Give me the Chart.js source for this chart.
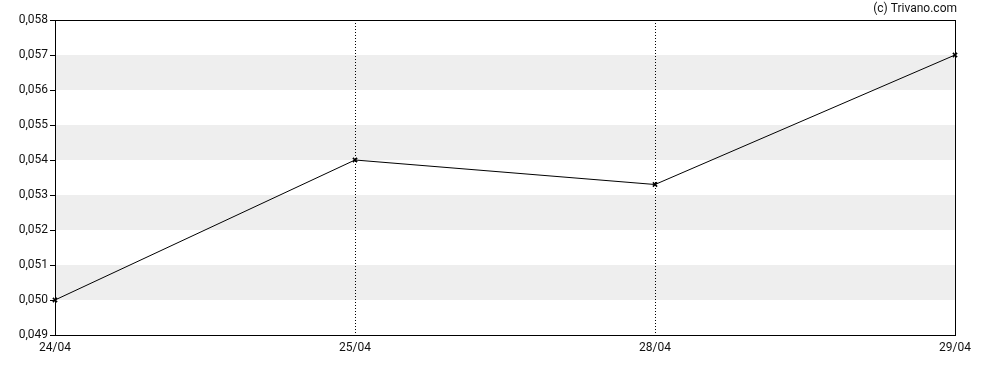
<!DOCTYPE html>
<html>
<head>
<meta charset="utf-8">
<script src="https://cdn.jsdelivr.net/npm/chart.js@4/dist/chart.umd.min.js"></script>
<style>
    html, body { margin: 0; padding: 0; background: #ffffff; }
    #wrap { width: 988px; height: 370px; }
</style>
</head>
<body>
<div id="wrap"><canvas id="priceChart"></canvas></div>
<script>
// Chart data
const dates = ['24/04', '25/04', '28/04', '29/04'];
const prices = [0.050, 0.054, 0.0533, 0.057];
const yMin = 0.049;
const yMax = 0.058;
const yStep = 0.001;
// shaded horizontal bands [from, to]
const bandFrom = [0.050, 0.052, 0.054, 0.056];
const bandTo = [0.051, 0.053, 0.055, 0.057];

const textColor = '#111111';
const fontSpec = { family: 'Roboto', size: 12 };

// Gray bands drawn before grid and line
const bandsPlugin = {
    id: 'bands',
    beforeDraw(chart) {
        const { ctx, chartArea, scales } = chart;
        ctx.save();
        ctx.fillStyle = '#eeeeee';
        bandFrom.forEach((from, i) => {
            const yTop = scales.y.getPixelForValue(bandTo[i]);
            const yBot = scales.y.getPixelForValue(from);
            ctx.fillRect(chartArea.left, yTop, chartArea.right - chartArea.left, yBot - yTop);
        });
        ctx.restore();
    }
};

// Frame around the plot + copyright text
const framePlugin = {
    id: 'frame',
    afterDraw(chart) {
        const { ctx, chartArea } = chart;
        ctx.save();
        ctx.strokeStyle = '#000000';
        ctx.lineWidth = 1;
        ctx.strokeRect(chartArea.left + 0.5, chartArea.top + 0.5,
            chartArea.right - chartArea.left, chartArea.bottom - chartArea.top);
        ctx.fillStyle = textColor;
        ctx.font = '12px Roboto';
        ctx.textAlign = 'right';
        ctx.textBaseline = 'middle';
        ctx.fillText('(c) Trivano.com', chartArea.right + 2, 9);
        ctx.restore();
    }
};

new Chart(document.getElementById('priceChart'), {
    type: 'line',
    data: {
        labels: dates,
        datasets: [{
            data: prices,
            borderColor: '#000000',
            borderWidth: 1,
            tension: 0,
            fill: false,
            pointStyle: 'crossRot',
            pointRadius: 3,
            pointBorderColor: '#000000',
            pointBorderWidth: 1.5
        }]
    },
    options: {
        responsive: true,
        maintainAspectRatio: false,
        animation: false,
        layout: {
            padding: { left: 0, right: 33, top: 20, bottom: 0 }
        },
        plugins: {
            legend: { display: false },
            tooltip: { enabled: false }
        },
        scales: {
            x: {
                offset: false,
                grid: {
                    drawTicks: false,
                    color: ctx => (ctx.index === 1 || ctx.index === 2) ? '#000000' : 'rgba(0,0,0,0)',
                    lineWidth: 1
                },
                border: { display: false, dash: [1, 2] },
                ticks: {
                    color: textColor,
                    font: fontSpec,
                    padding: 6,
                    maxRotation: 0
                },
                afterFit(scale) { scale.height = 35; }
            },
            y: {
                min: yMin,
                max: yMax,
                grid: {
                    drawOnChartArea: false,
                    drawTicks: true,
                    tickLength: 5,
                    color: '#000000'
                },
                border: { display: false },
                ticks: {
                    stepSize: yStep,
                    color: textColor,
                    font: fontSpec,
                    padding: 2,
                    callback: v => v.toFixed(3).replace('.', ',')
                },
                afterFit(scale) { scale.width = 55; }
            }
        }
    },
    plugins: [bandsPlugin, framePlugin]
});
</script>
</body>
</html>
